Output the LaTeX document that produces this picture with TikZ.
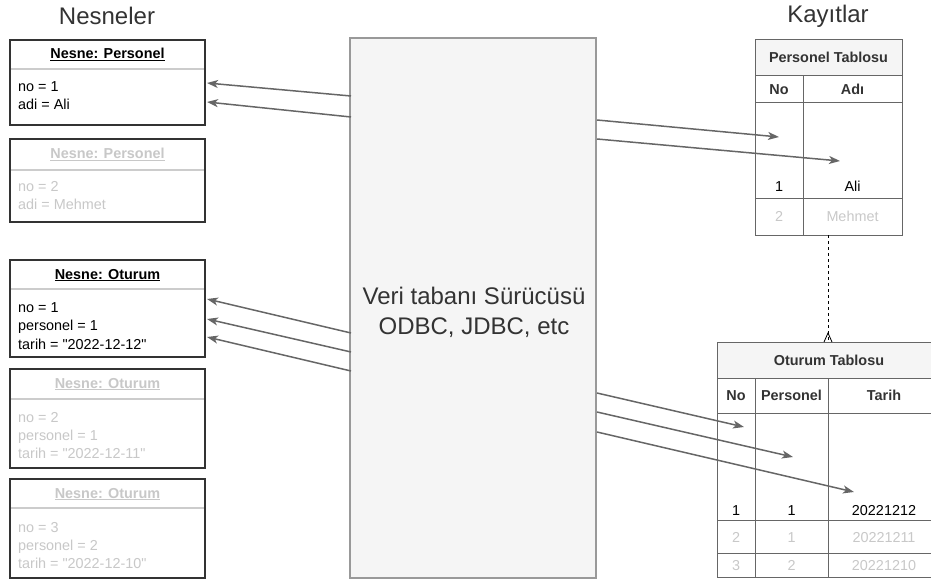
\documentclass[tikz,border=0pt]{standalone}
\usepackage{fontspec}
\setmainfont{Liberation Sans}
\usetikzlibrary{arrows.meta}
\definecolor{boxline}{HTML}{333333}
\definecolor{sepline}{HTML}{CCCCCC}
\definecolor{faded}{HTML}{C8C8C8}
\definecolor{arrowgray}{HTML}{666666}
\definecolor{drvfill}{HTML}{F5F5F5}
\definecolor{drvline}{HTML}{999999}
\definecolor{tabline}{HTML}{666666}
\newcommand{\qd}{\textquotedbl}
\tikzset{
  fixh/.style={text height=12.5pt, text depth=2.5pt},
  objbox/.style={draw=boxline, line width=2pt, fill=white},
  sepl/.style={draw=sepline, line width=1.5pt},
  objtitle/.style={font=\fontsize{14.4}{17}\selectfont\bfseries, text=#1, inner sep=0pt, fixh},
  objtext/.style={font=\fontsize{14.4}{17}\selectfont, text=#1, anchor=west, inner sep=0pt, fixh},
  bigtitle/.style={font=\fontsize{24}{28}\selectfont, text=boxline, inner sep=0pt},
  tab/.style={draw=tabline, line width=1pt},
  tabhead/.style={font=\fontsize{14.4}{17}\selectfont\bfseries, text=boxline, inner sep=0pt, fixh},
  cell/.style={font=\fontsize{14.4}{17}\selectfont, text=#1, inner sep=0pt, fixh},
  conn/.style={draw=arrowgray, line width=1.5pt, -{Stealth[length=11pt,width=8pt,inset=3pt]}},
}
\begin{document}
\begin{tikzpicture}[x=1pt,y=-1pt]
\path[use as bounding box] (0,0) rectangle (931,580);

% titles
\node[bigtitle] (tn) at (107,16) {Nesneler};
\node[bigtitle] (tk) at (828,16) {Kayıtlar};

% ---------- object boxes ----------
% box 1
\draw[objbox] (10,40) rectangle (205,125);
\draw[sepl] (11,69) -- (204,69);
\node[objtitle=black] (b1t) at (107.5,54) {\underline{Nesne: Personel}};
\node[objtext=black] (b1a) at (18,87) {no = 1};
\node[objtext=black] (b1b) at (18,105) {adi = Ali};
% box 2
\draw[objbox] (10,139) rectangle (205,222);
\draw[sepl] (11,170) -- (204,170);
\node[objtitle=faded] (b2t) at (107.5,154) {\underline{Nesne: Personel}};
\node[objtext=faded] (b2a) at (18,187) {no = 2};
\node[objtext=faded] (b2b) at (18,205) {adi = Mehmet};
% box 3
\draw[objbox] (10,260) rectangle (205,357);
\draw[sepl] (11,289) -- (204,289);
\node[objtitle=black] (b3t) at (107.5,274) {\underline{Nesne: Oturum}};
\node[objtext=black] (b3a) at (18,307) {no = 1};
\node[objtext=black] (b3b) at (18,325.5) {personel = 1};
\node[objtext=black] (b3c) at (18,344) {tarih = \qd2022-12-12\qd};
% box 4
\draw[objbox] (10,369) rectangle (205,468);
\draw[sepl] (11,399) -- (204,399);
\node[objtitle=faded] (b4t) at (107.5,383) {\underline{Nesne: Oturum}};
\node[objtext=faded] (b4a) at (18,417) {no = 2};
\node[objtext=faded] (b4b) at (18,435) {personel = 1};
\node[objtext=faded] (b4c) at (18,453) {tarih = \qd2022-12-11\qd};
% box 5
\draw[objbox] (10,479) rectangle (205,578);
\draw[sepl] (11,508) -- (204,508);
\node[objtitle=faded] (b5t) at (107.5,493) {\underline{Nesne: Oturum}};
\node[objtext=faded] (b5a) at (18,527) {no = 3};
\node[objtext=faded] (b5b) at (18,545) {personel = 2};
\node[objtext=faded] (b5c) at (18,563) {tarih = \qd2022-12-10\qd};

% ---------- driver ----------
\draw[draw=drvline, fill=drvfill, line width=2pt] (350,38) rectangle (596,578);
\node[font=\fontsize{24}{30}\selectfont, text=boxline, align=center, inner sep=0pt] (drv) at (474,312)
  {Veri tabanı Sürücüsü\\ODBC, JDBC, etc};

% ---------- Personel table ----------
\draw[tab, fill=drvfill] (755,40) rectangle (902,76);
\draw[tab] (755,76) rectangle (902,235);
\draw[tab] (755,103) -- (902,103);
\draw[tab] (755,199) -- (902,199);
\draw[tab] (803,76) -- (803,235);
\node[tabhead] (pth) at (828.5,58) {Personel Tablosu};
\node[tabhead] (pno) at (779,89.5) {No};
\node[tabhead] (pad) at (852.5,89.5) {Adı};
\node[cell=black] (p11) at (779,187) {1};
\node[cell=black] (p12) at (852.5,187) {Ali};
\node[cell=faded] (p21) at (779,217) {2};
\node[cell=faded] (p22) at (852.5,217) {Mehmet};

% ---------- Oturum table ----------
\draw[tab, fill=drvfill] (717,342) rectangle (941,378);
\draw[tab] (717,378) rectangle (941,577);
\draw[tab] (717,413) -- (941,413);
\draw[tab] (717,520) -- (941,520);
\draw[tab] (717,553) -- (941,553);
\draw[tab] (755,378) -- (755,577);
\draw[tab] (828,378) -- (828,577);
\node[tabhead] (oth) at (829,360) {Oturum Tablosu};
\node[tabhead] (ono) at (736,395.5) {No};
\node[tabhead] (ope) at (791.5,395.5) {Personel};
\node[tabhead] (ota) at (884,395.5) {Tarih};
\node[cell=black] (o11) at (736,510) {1};
\node[cell=black] (o12) at (791.5,510) {1};
\node[cell=black] (o13) at (884,510) {20221212};
\node[cell=faded] (o21) at (736,537) {2};
\node[cell=faded] (o22) at (791.5,537) {1};
\node[cell=faded] (o23) at (884,537) {20221211};
\node[cell=faded] (o31) at (736,565) {3};
\node[cell=faded] (o32) at (791.5,565) {2};
\node[cell=faded] (o33) at (884,565) {20221210};

% ---------- relation ----------
\coordinate (rtop) at (828,235);
\coordinate (rbot) at (828,342);
\coordinate (rfoot) at (828,333);
\coordinate (rl) at (824,342);
\coordinate (rr) at (832,342);
\draw[black, line width=0.8pt, dashed, dash pattern=on 3pt off 3pt] (rtop) -- (rbot);
\draw[black, line width=0.8pt] (rl) -- (rfoot) -- (rr);

% ---------- arrows ----------
\coordinate (s1) at (351,96);   \coordinate (e1) at (207,83);
\coordinate (s2) at (351,117);  \coordinate (e2) at (207,102);
\coordinate (s3) at (351,333);  \coordinate (e3) at (207,299);
\coordinate (s4) at (351,352);  \coordinate (e4) at (207,319);
\coordinate (s5) at (351,371);  \coordinate (e5) at (207,337);
\draw[conn] (s1) -- (e1);
\draw[conn] (s2) -- (e2);
\draw[conn] (s3) -- (e3);
\draw[conn] (s4) -- (e4);
\draw[conn] (s5) -- (e5);

\coordinate (r1s) at (597,120); \coordinate (r1e) at (779,137);
\coordinate (r2s) at (597,139); \coordinate (r2e) at (840,161);
\coordinate (r3s) at (597,393); \coordinate (r3e) at (744,427);
\coordinate (r4s) at (597,412); \coordinate (r4e) at (793,457);
\coordinate (r5s) at (597,432); \coordinate (r5e) at (854,492);
\draw[conn] (r1s) -- (r1e);
\draw[conn] (r2s) -- (r2e);
\draw[conn] (r3s) -- (r3e);
\draw[conn] (r4s) -- (r4e);
\draw[conn] (r5s) -- (r5e);
\end{tikzpicture}
\end{document}
